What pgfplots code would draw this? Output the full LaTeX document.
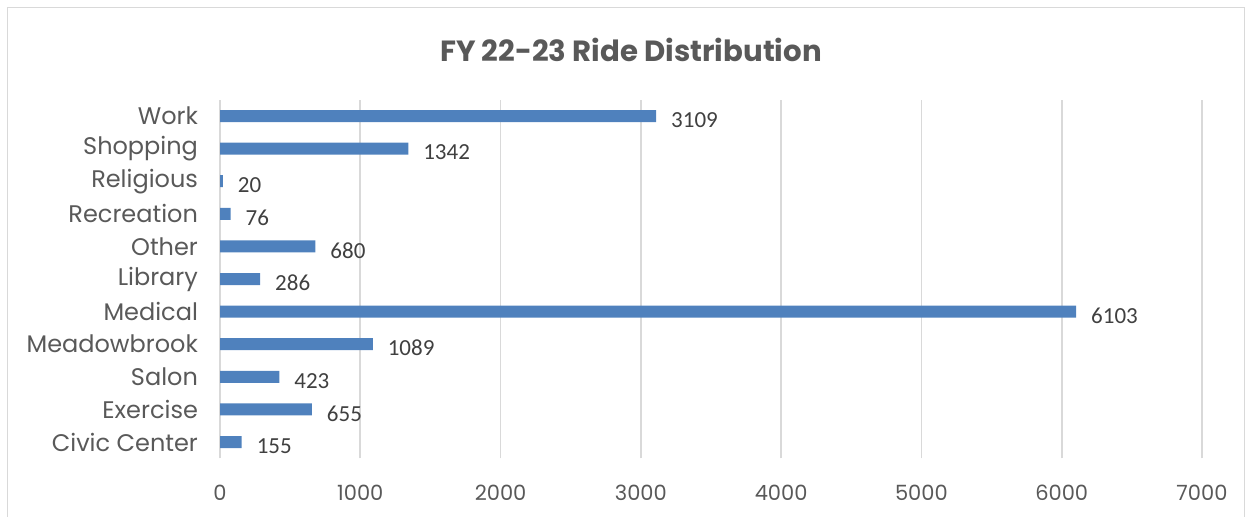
\documentclass[border=0pt]{standalone}
\usepackage{pgfplots}
\pgfplotsset{compat=1.18}
\usepackage{fontspec}
\setmainfont{Poppins}
\newfontfamily\calib{Carlito}
\definecolor{barblue}{HTML}{4F81BD}
\definecolor{txtgray}{HTML}{595959}
\definecolor{lblgray}{HTML}{404040}
\definecolor{gridgray}{HTML}{D9D9D9}
\begin{document}
\begin{tikzpicture}
\useasboundingbox (0pt,0pt) rectangle (626pt,-258pt);
\draw[gridgray, line width=0.8pt] (3.8pt,-300pt) -- (3.8pt,-3.8pt) -- (622.2pt,-3.8pt) -- (622.2pt,-300pt);
\node[font=\bfseries\fontsize{14.6}{16}\selectfont, text=txtgray] at (315.5pt,-25pt) {FY 22-23 Ride Distribution};
\begin{axis}[
  at={(110pt,-229.15pt)}, anchor=south west,
  scale only axis, width=491pt, height=179.3pt,
  xbar, bar width=6pt,
  xmin=0, xmax=7000,
  ymin=-0.5, ymax=10.5,
  xtick={0,1000,...,7000},
  ytick={0,...,10},
  yticklabels={Civic Center,Exercise,Salon,Meadowbrook,Medical,Library,Other,Recreation,Religious,Shopping,Work},
  axis line style={draw=none},
  major tick length=0pt,
  xmajorgrids, grid style={gridgray, line width=0.8pt},
  tick label style={text=txtgray},
  xticklabel style={font=\fontsize{10.5}{12}\selectfont, yshift=-10pt},
  yticklabel style={font=\fontsize{12}{14}\selectfont, xshift=-7.5pt},
  /pgf/number format/assume math mode=true,
  /pgf/number format/set thousands separator={},
  nodes near coords,
  nodes near coords style={font=\calib\fontsize{11.5}{13}\selectfont, text=lblgray, anchor=west, xshift=4pt, yshift=-2pt},
]
\addplot[fill=barblue, draw=none] coordinates {
(155,0) (655,1) (423,2) (1089,3) (6103,4) (286,5) (680,6) (76,7) (20,8) (1342,9) (3109,10)
};
\end{axis}
\end{tikzpicture}
\end{document}
